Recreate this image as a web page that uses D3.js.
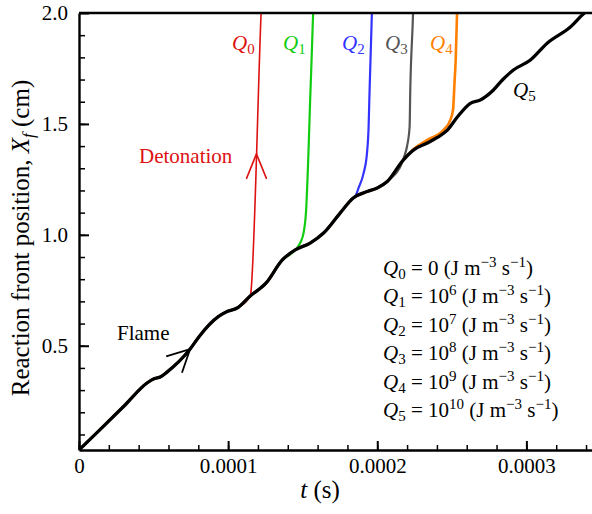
<!DOCTYPE html>
<html><head><meta charset="utf-8">
<script src="https://cdn.jsdelivr.net/npm/d3@7"></script>
<style>
html,body{margin:0;padding:0;background:#fff;}
svg{display:block;font-family:"Liberation Serif","Times New Roman",serif;}
</style></head>
<body><svg id="c" width="592" height="514"></svg>
<script>
// Q5 (base flame) curve: time (s) and front position (cm)
const baseT = [0, 1.41e-5, 3.09e-5, 4.56e-5, 5.03e-5, 5.48e-5, 5.9e-5, 7.45e-5, 8.05e-5, 9.36e-5, 9.93e-5, 1.06e-4, 1.148e-4, 1.255e-4, 1.362e-4, 1.45e-4, 1.55e-4, 1.64e-4, 1.752e-4, 1.839e-4, 1.933e-4, 2.0e-4, 2.067e-4, 2.174e-4, 2.242e-4, 2.336e-4, 2.403e-4, 2.47e-4, 2.537e-4, 2.624e-4, 2.691e-4, 2.779e-4, 2.839e-4, 2.913e-4, 3.027e-4, 3.141e-4, 3.295e-4, 3.389e-4, 3.45e-4];
const baseX = [0.03, 0.122, 0.233, 0.332, 0.351, 0.360, 0.381, 0.485, 0.541, 0.632, 0.654, 0.670, 0.724, 0.783, 0.886, 0.932, 0.963, 1.008, 1.099, 1.166, 1.195, 1.211, 1.240, 1.337, 1.382, 1.414, 1.439, 1.472, 1.531, 1.593, 1.608, 1.653, 1.698, 1.743, 1.788, 1.865, 1.937, 2.0, 2.03];
// Branches leaving the base curve (transition to detonation)
const q0T = [1.151e-4, 1.221e-4, 1.224e-4];
const q0X = [0.733, 2.0, 2.05];
const q1T = [1.45e-4, 1.483e-4, 1.507e-4, 1.523e-4, 1.537e-4, 1.55e-4, 1.57e-4, 1.572e-4];
const q1X = [0.931, 0.963, 1.012, 1.112, 1.337, 1.608, 2.0, 2.05];
const q2T = [1.852e-4, 1.874e-4, 1.908e-4, 1.931e-4, 1.942e-4, 1.948e-4, 1.964e-4, 1.966e-4];
const q2X = [1.172, 1.210, 1.277, 1.367, 1.487, 1.638, 2.0, 2.05];
const q3T = [2.177e-4, 2.199e-4, 2.217e-4, 2.221e-4, 2.24e-4, 2.242e-4];
const q3X = [1.345, 1.397, 1.487, 1.638, 2.0, 2.05];
const q4T = [2.242e-4, 2.333e-4, 2.445e-4, 2.49e-4, 2.508e-4, 2.519e-4, 2.526e-4, 2.535e-4, 2.537e-4];
const q4X = [1.385, 1.427, 1.473, 1.518, 1.563, 1.698, 1.788, 2.0, 2.05];
const seriesNames = ["Q0", "Q1", "Q2", "Q3", "Q4", "Q5"];
const seriesColors = ["#dd1111", "#11cc11", "#3333ff", "#555555", "#ff8000", "#000000"];
const legendValues = ["0", "10^6", "10^7", "10^8", "10^9", "10^10"];
const xTicks = [0, 0.0001, 0.0002, 0.0003];
const xTickLabels = ["0", "0.0001", "0.0002", "0.0003"];
const yTicks = [0.5, 1.0, 1.5, 2.0];
const yTickLabels = ["0.5", "1.0", "1.5", "2.0"];

const svg = d3.select("#c");
const L = 79, R = 592, T = 13, B = 450;
const x = d3.scaleLinear().domain([0, 0.000344]).range([L, R]);
const y = d3.scaleLinear().domain([0.03, 2.0]).range([B, T]);

svg.append("defs").append("clipPath").attr("id", "clip")
  .append("rect").attr("x", L).attr("y", T).attr("width", R - L).attr("height", B - T);

function build(bt, bx) {
  const pts = [];
  for (let i = 0; i < baseT.length; i++) if (baseT[i] < bt[0]) pts.push([baseT[i], baseX[i]]);
  for (let i = 0; i < bt.length; i++) pts.push([bt[i], bx[i]]);
  return pts;
}
const series = [
  build(q0T, q0X), build(q1T, q1X), build(q2T, q2X), build(q3T, q3X), build(q4T, q4X),
  baseT.map((t, i) => [t, baseX[i]])
];
const widths = [1.6, 2.2, 2.2, 2.2, 2.6, 3.3];
const line = d3.line().x(d => x(d[0])).y(d => y(d[1])).curve(d3.curveMonotoneX);
const g = svg.append("g").attr("clip-path", "url(#clip)");
[0,1,2,3,4,5].forEach(i => {
  g.append("path").datum(series[i]).attr("d", line)
    .attr("fill", "none").attr("stroke", seriesColors[i]).attr("stroke-width", widths[i])
    .attr("stroke-linejoin", "round").attr("stroke-linecap", "round");
});

// Axes
const xMinor = d3.range(0, 0.000345, 0.00002);
svg.append("g").attr("transform", `translate(0,${B})`)
  .call(d3.axisBottom(x).tickValues(xMinor).tickSize(-5).tickSizeOuter(0).tickFormat(""))
  .call(a => a.select(".domain").remove())
  .call(a => a.selectAll("line").attr("stroke-width", 1.5));
const xa = svg.append("g").attr("transform", `translate(0,${B})`)
  .call(d3.axisBottom(x).tickValues(xTicks).tickSize(-9).tickSizeOuter(0).tickPadding(8)
    .tickFormat((d, i) => xTickLabels[i]));
xa.select(".domain").attr("stroke-width", 2.4);
xa.selectAll("line").attr("stroke-width", 2);
xa.selectAll("text").attr("font-size", 21).attr("fill", "#000").attr("font-family", "Liberation Serif");

const yMinor = d3.range(1, 20).map(k => k / 10);
svg.append("g").attr("transform", `translate(${L},0)`)
  .call(d3.axisLeft(y).tickValues(yMinor).tickSize(-6).tickSizeOuter(0).tickFormat(""))
  .call(a => a.select(".domain").remove())
  .call(a => a.selectAll("line").attr("stroke-width", 1.5));
const ya = svg.append("g").attr("transform", `translate(${L},0)`)
  .call(d3.axisLeft(y).tickValues(yTicks).tickSize(-10).tickSizeOuter(0).tickPadding(11)
    .tickFormat((d, i) => yTickLabels[i]));
ya.select(".domain").attr("stroke-width", 2.4);
ya.selectAll("line").attr("stroke-width", 2);
ya.selectAll("text").attr("font-size", 21).attr("fill", "#000").attr("font-family", "Liberation Serif");

svg.append("line").attr("x1", L).attr("x2", R).attr("y1", T).attr("y2", T)
  .attr("stroke", "#000").attr("stroke-width", 2.4);

// Axis titles
const xt = svg.append("text").attr("x", 320).attr("y", 498).attr("text-anchor", "middle")
  .attr("font-size", 25);
xt.append("tspan").attr("font-style", "italic").text("t");
xt.append("tspan").text(" (s)");
const yt = svg.append("text").attr("transform", "translate(29,238) rotate(-90)")
  .attr("text-anchor", "middle").attr("font-size", 25);
yt.append("tspan").text("Reaction front position, ");
yt.append("tspan").attr("font-style", "italic").text("X");
yt.append("tspan").attr("font-style", "italic").attr("font-size", 17).attr("dy", 5).text("f");
yt.append("tspan").attr("dy", -5).text(" (cm)");

// Q labels on curves
function qLabel(px, py, idx, color) {
  const t = svg.append("text").attr("x", px).attr("y", py).attr("font-size", 21).attr("fill", color);
  t.append("tspan").attr("font-style", "italic").text("Q");
  t.append("tspan").attr("font-size", 15).attr("dy", 4).text(seriesNames[idx].slice(1));
}
const labelPos = [[232, 50], [283, 50], [342, 50], [385, 50], [430, 50], [513, 97]];
labelPos.forEach((p, i) => qLabel(p[0], p[1], i, seriesColors[i]));

svg.append("text").attr("x", 139).attr("y", 163).attr("font-size", 21).attr("fill", "#dd1111").text("Detonation");
svg.append("text").attr("x", 117).attr("y", 340).attr("font-size", 21).attr("fill", "#000").text("Flame");

// Direction arrows
function arrow(t0, x0, angleDeg, color, len, spread, w) {
  const ax = x(t0), ay = y(x0);
  const a = angleDeg * Math.PI / 180;
  const pts = [-1, 1].map(s => {
    const b = a + Math.PI + s * spread * Math.PI / 180;
    return [ax + len * Math.cos(b), ay + len * Math.sin(b)];
  });
  svg.append("path").attr("d", `M${pts[0][0]},${pts[0][1]}L${ax},${ay}L${pts[1][0]},${pts[1][1]}`)
    .attr("fill", "none").attr("stroke", color).attr("stroke-width", w);
}
arrow(1.19e-4, 1.365, -90, "#dd1111", 27, 22, 1.6);
arrow(7.45e-5, 0.485, -44, "#000", 25, 27, 1.8);

// Legend
const legX = 383, legY0 = 275, legDy = 28.4;
legendValues.forEach((v, i) => {
  const t = svg.append("text").attr("x", legX).attr("y", legY0 + i * legDy).attr("font-size", 21).attr("fill", "#000");
  t.append("tspan").attr("font-style", "italic").text("Q");
  t.append("tspan").attr("font-size", 15).attr("dy", 4).text(String(i));
  const parts = v.split("^");
  t.append("tspan").attr("dy", -4).text(" = " + parts[0]);
  if (parts[1]) t.append("tspan").attr("font-size", 15).attr("dy", -8).text(parts[1]);
  t.append("tspan").attr("dy", parts[1] ? 8 : 0).text(" (J m");
  t.append("tspan").attr("font-size", 15).attr("dy", -8).text("\u22123");
  t.append("tspan").attr("dy", 8).text(" s");
  t.append("tspan").attr("font-size", 15).attr("dy", -8).text("\u22121");
  t.append("tspan").attr("dy", 8).text(")");
});
</script></body></html>
